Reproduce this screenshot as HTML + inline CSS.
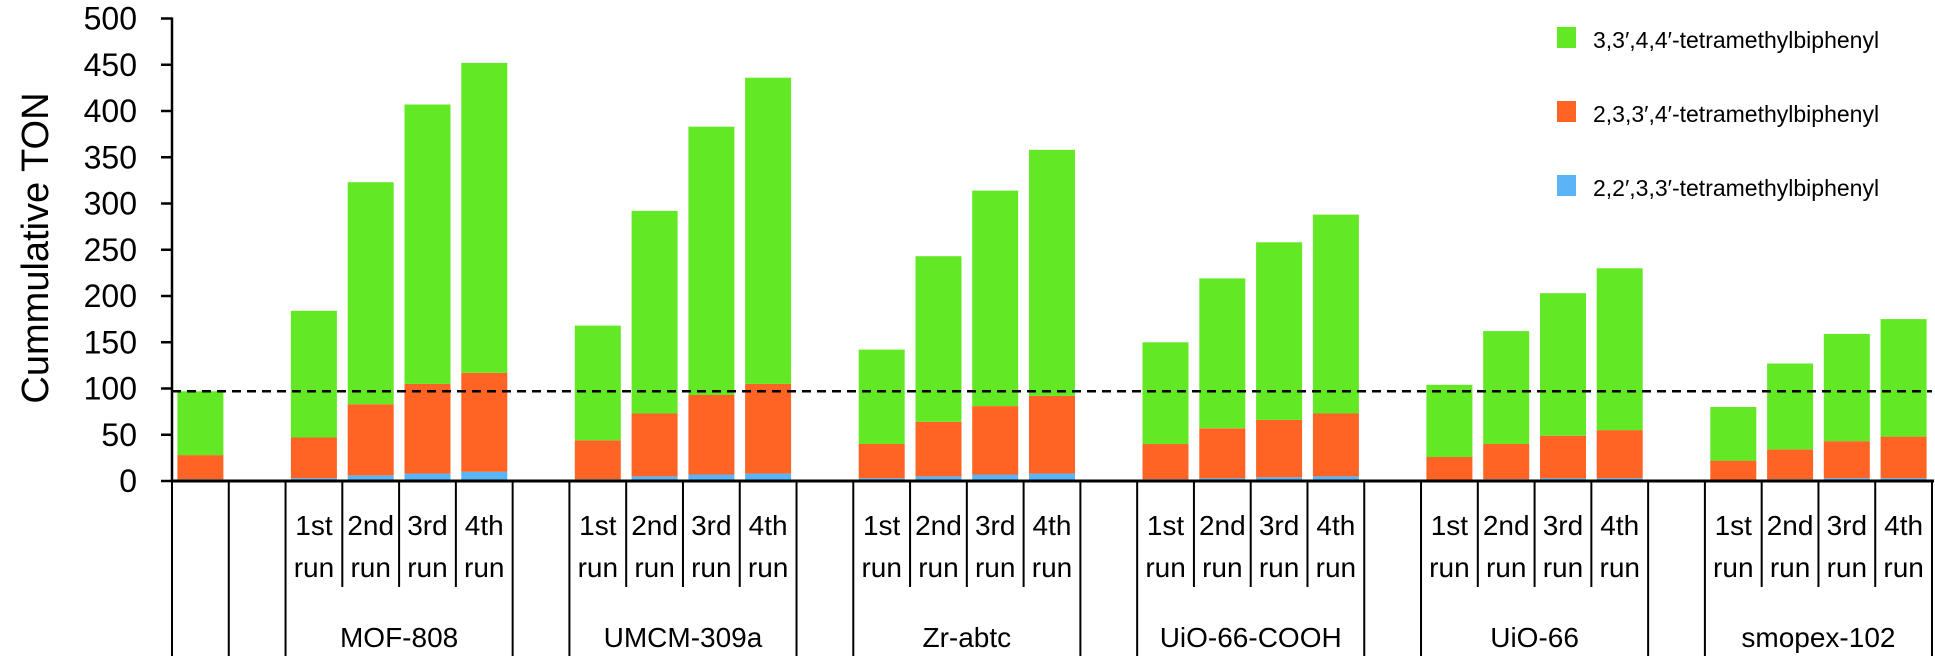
<!DOCTYPE html>
<html><head><meta charset="utf-8"><style>
body{margin:0;background:#fff;}
svg text{font-family:"Liberation Sans",sans-serif;fill:#000;}
</style></head><body>
<svg id="chart" width="1935" height="656" viewBox="0 0 1935 656" xmlns="http://www.w3.org/2000/svg">
<g id="bars"></g>
<g id="axes"></g>
<text transform="translate(48,248) rotate(-90)" text-anchor="middle" font-size="38">Cummulative TON</text>
<g>
 <g><rect x="1557" y="27" width="19" height="21" fill="#62e825"/><text x="1593" y="48" font-size="23">3,3′,4,4′-tetramethylbiphenyl</text></g>
 <g><rect x="1557" y="101" width="19" height="21" fill="#ff6424"/><text x="1593" y="122" font-size="23">2,3,3′,4′-tetramethylbiphenyl</text></g>
 <g><rect x="1557" y="175" width="19" height="21" fill="#5ab4f5"/><text x="1593" y="196" font-size="23">2,2′,3,3′-tetramethylbiphenyl</text></g>
</g>
</svg>
<script>
// slot index of each bar (31 slots, gaps between groups)
const slots = [0, 2,3,4,5, 7,8,9,10, 12,13,14,15, 17,18,19,20, 22,23,24,25, 27,28,29,30];
const totals = [97, 184,323,407,452, 168,292,383,436, 142,243,314,358, 150,219,258,288, 104,162,203,230, 80,127,159,175];
const orangeTops = [28, 47,83,105,117, 44,73,93,105, 40,64,81,92, 40,57,66,73, 26,40,49,55, 22,34,43,48];
const blueVals = [2, 3,6,8,10, 2,5,7,8, 3,5,7,8, 2,3,4,5, 1,2,3,3, 1,2,3,3];
const runLabels = ["1st","2nd","3rd","4th"];
const groups = ["MOF-808","UMCM-309a","Zr-abtc","UiO-66-COOH","UiO-66","smopex-102"];
const groupStarts = [2,7,12,17,22,27];
const yTicks = [0,50,100,150,200,250,300,350,400,450,500];
const refLine = 97;

const NS="http://www.w3.org/2000/svg";
const X0=172, X1=1932, NSLOT=31, SW=(X1-X0)/NSLOT, BW=46;
const Y0=481, PPU=0.925;
const y = v => Y0 - v*PPU;
const xs = s => X0 + s*SW;
function mk(tag, attrs, parent){const e=document.createElementNS(NS,tag);for(const k in attrs)e.setAttribute(k,attrs[k]);parent.appendChild(e);return e;}
const bars=document.getElementById('bars'), axes=document.getElementById('axes');

slots.forEach((s,i)=>{
  const bx = xs(s)+(SW-BW)/2;
  const segs=[[0,blueVals[i],'#5ab4f5','blue'],[blueVals[i],orangeTops[i],'#ff6424','orange'],[orangeTops[i],totals[i],'#62e825','green']];
  segs.forEach(sg=>{
    const r=mk('rect',{x:bx.toFixed(1),y:y(sg[1]).toFixed(1),width:BW,height:((sg[1]-sg[0])*PPU).toFixed(1),fill:sg[2]},bars);
    
    
  });
});

// ref dashed line
const dl=mk('line',{x1:X0,x2:X1,y1:y(refLine),y2:y(refLine),stroke:'#000','stroke-width':2.5,'stroke-dasharray':'9,6'},axes);



// y axis
const ya=mk('line',{x1:X0,x2:X0,y1:y(500)-1,y2:Y0+1,stroke:'#000','stroke-width':2.5},axes);


yTicks.forEach(t=>{
  const tk=mk('line',{x1:X0-11,x2:X0,y1:y(t),y2:y(t),stroke:'#000','stroke-width':2.5},axes);
  
  
  const tx=mk('text',{x:137,y:y(t)+11,'text-anchor':'end','font-size':32},axes);
  tx.textContent=t;
  
  
});
// x axis
const xa=mk('line',{x1:X0,x2:X1+2,y1:Y0,y2:Y0,stroke:'#000','stroke-width':3},axes);


// separators
const full=[0,1,2,6,7,11,12,16,17,21,22,26,27,31];
for(let s=0;s<=NSLOT;s++){
  const isFull=full.includes(s);
  const inner=groupStarts.some(g=>s>g&&s<g+4);
  if(!isFull&&!inner)continue;
  const l=mk('line',{x1:xs(s),x2:xs(s),y1:Y0,y2:isFull?656:587,stroke:'#000','stroke-width':2},axes);
  
  
}
groupStarts.forEach((g,gi)=>{
  for(let r=0;r<4;r++){
    const cx=xs(g+r)+SW/2;
    const t1=mk('text',{x:cx,y:535,'text-anchor':'middle','font-size':28},axes);
    t1.textContent=runLabels[r];
    
    
    const t2=mk('text',{x:cx,y:577,'text-anchor':'middle','font-size':28},axes);
    t2.textContent='run';
    
    
  }
  const gt=mk('text',{x:xs(g)+2*SW,y:647,'text-anchor':'middle','font-size':28},axes);
  gt.textContent=groups[gi];
  
  
});
</script>
</body></html>
